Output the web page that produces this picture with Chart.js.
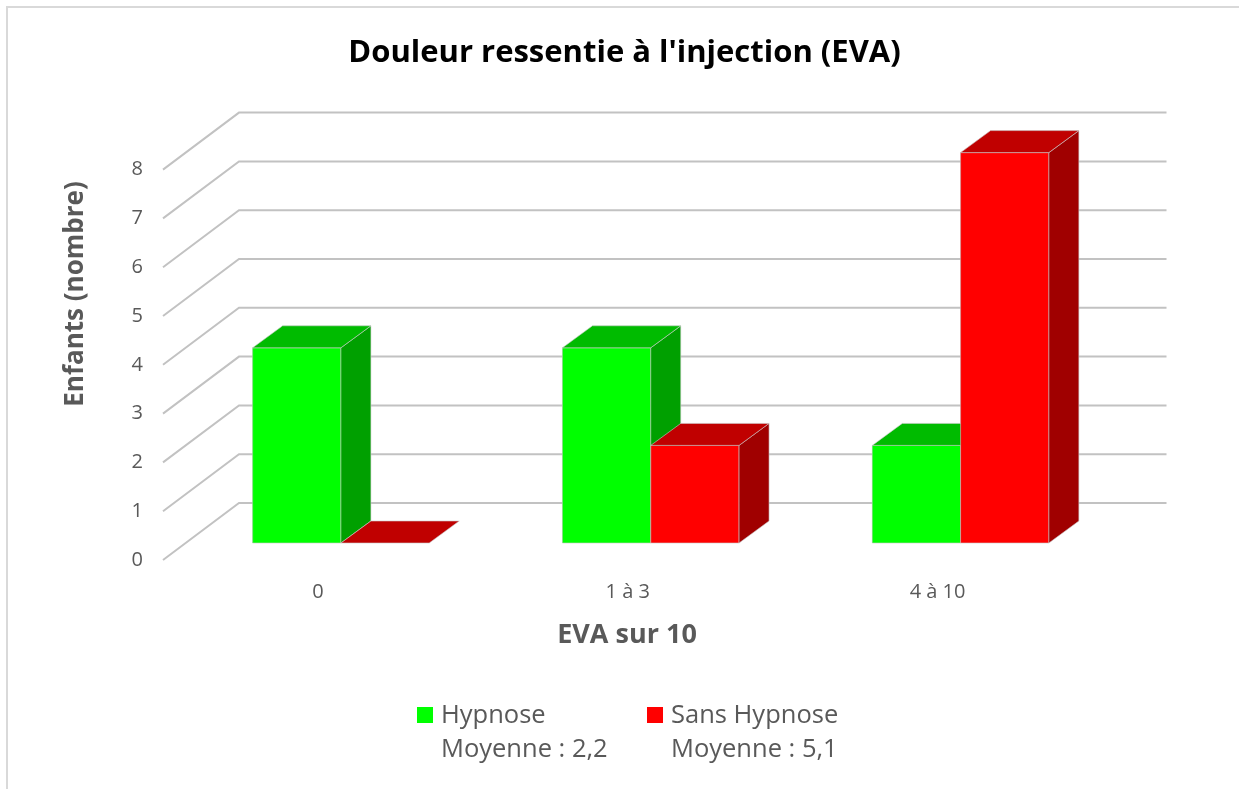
<!DOCTYPE html>
<html lang="fr">
<head>
  <meta charset="UTF-8" />
  <title>Douleur ressentie à l'injection (EVA)</title>
  <script src="https://cdn.jsdelivr.net/npm/chart.js"></script>
  <style>
    html, body { margin: 0; padding: 0; background: #fff; overflow: hidden; }
    #wrap { position: relative; width: 1239px; height: 789px; }
    #frame {
      position: absolute; left: 6px; top: 6px; width: 1300px; height: 900px;
      border: 2px solid #d9d9d9; box-sizing: border-box;
    }
    canvas { position: absolute; left: 0; top: 0; }
  </style>
</head>
<body>
<div id="wrap">
  <div id="frame"></div>
  <canvas id="chart" width="1239" height="789"></canvas>
</div>
<script>
  // data
  const categories = ['0', '1 à 3', '4 à 10'];
  const hypnose = [4, 4, 2];
  const sansHypnose = [0, 2, 8];
  const seriesNames = ['Hypnose', 'Sans Hypnose'];
  const moyennes = ['Moyenne : 2,2', 'Moyenne : 5,1'];
  const yMin = 0, yMax = 8, yStep = 1;
  const xTitle = 'EVA sur 10';
  const yTitle = 'Enfants (nombre)';

  const FONT = "'Open Sans', Lato, sans-serif";
  const GREY = '#595959';

  // offsets of the fake 3D view, relative to the front of the bars
  const FRONT = { dx: -23, dy: 17 };
  const BACK = { dx: 53, dy: -40 };
  const BAR = { dx: 30, dy: -22 };

  function face(ctx, pts, color) {
    ctx.beginPath();
    ctx.moveTo(pts[0][0], pts[0][1]);
    for (let k = 1; k < pts.length; k++) ctx.lineTo(pts[k][0], pts[k][1]);
    ctx.closePath();
    ctx.fillStyle = color;
    ctx.fill();
    ctx.stroke();
  }

  const depth3d = {
    id: 'depth3d',
    beforeDatasetsDraw(chart) {
      const { ctx, chartArea: a } = chart;
      const y = chart.scales.y;
      ctx.save();
      ctx.strokeStyle = '#c2c2c2';
      ctx.lineWidth = 2;
      y.ticks.forEach(t => {
        const py = y.getPixelForValue(t.value);
        ctx.beginPath();
        ctx.moveTo(a.left + FRONT.dx, py + FRONT.dy);
        ctx.lineTo(a.left + BACK.dx, py + BACK.dy);
        ctx.lineTo(a.right + BACK.dx - 2, py + BACK.dy);
        ctx.stroke();
      });
      ctx.restore();
    },
    afterDatasetsDraw(chart) {
      const { ctx } = chart;
      const sets = chart.data.datasets;
      ctx.save();
      ctx.lineWidth = 1;
      ctx.strokeStyle = 'rgba(200,200,200,0.6)';
      for (let j = 0; j < chart.data.labels.length; j++) {
        sets.forEach((ds, i) => {
          const bar = chart.getDatasetMeta(i).data[j];
          const { x, y, base, width } = bar.getProps(['x', 'y', 'base', 'width'], true);
          const l = x - width / 2, r = x + width / 2;
          if (base - y > 0) {
            face(ctx, [[l, y], [r, y], [r, base], [l, base]], ds.backgroundColor);
            face(ctx, [[r, y], [r + BAR.dx, y + BAR.dy], [r + BAR.dx, base + BAR.dy], [r, base]], ds.sideColor);
          }
          face(ctx, [[l, y], [l + BAR.dx, y + BAR.dy], [r + BAR.dx, y + BAR.dy], [r, y]], ds.topColor);
        });
      }
      ctx.restore();
    }
  };

  // axis titles sit where Excel put them (off the plot centre), so they are drawn here
  const axisTitles = {
    id: 'axisTitles',
    afterDraw(chart) {
      const { ctx } = chart;
      ctx.save();
      ctx.fillStyle = GREY;
      ctx.textAlign = 'center';
      ctx.textBaseline = 'middle';
      ctx.font = 'bold 27px ' + FONT;
      ctx.fillText(xTitle, 627, 635);
      ctx.translate(75.5, 294);
      ctx.rotate(-Math.PI / 2);
      ctx.font = 'bold 26px ' + FONT;
      ctx.fillText(yTitle, 0, 0);
      ctx.restore();
    }
  };

  const legendBlock = {
    id: 'legendBlock',
    afterDraw(chart) {
      const { ctx } = chart;
      const xs = [417, 647];
      ctx.save();
      ctx.font = '25.5px ' + FONT;
      ctx.textBaseline = 'middle';
      chart.data.datasets.forEach((ds, i) => {
        ctx.fillStyle = ds.backgroundColor;
        ctx.fillRect(xs[i], 707, 16, 16);
        ctx.fillStyle = GREY;
        ctx.fillText(ds.label, xs[i] + 24, 716);
        ctx.fillText(moyennes[i], xs[i] + 24, 750);
      });
      ctx.restore();
    }
  };

  Chart.defaults.font.family = FONT;
  Chart.defaults.color = GREY;

  new Chart(document.getElementById('chart'), {
    type: 'bar',
    data: {
      labels: categories,
      datasets: [
        { label: seriesNames[0], data: hypnose, backgroundColor: '#00ff00', topColor: '#00bb00', sideColor: '#00a000' },
        { label: seriesNames[1], data: sansHypnose, backgroundColor: '#ff0000', topColor: '#c00000', sideColor: '#a00000' }
      ]
    },
    options: {
      responsive: false,
      animation: false,
      events: [],
      layout: { padding: { left: 10, right: 0, top: 0, bottom: 140 } },
      datasets: { bar: { categoryPercentage: 0.57, barPercentage: 1.0, borderWidth: 0 } },
      plugins: {
        legend: { display: false },
        tooltip: { enabled: false },
        title: {
          display: true,
          text: "Douleur ressentie à l'injection (EVA)",
          color: '#000',
          font: { size: 31, weight: 'bold' },
          padding: { top: 34.4, bottom: 81 }
        }
      },
      scales: {
        x: {
          grid: { display: false, drawTicks: false },
          border: { display: false },
          ticks: { padding: 37, labelOffset: -23, color: GREY, font: { size: 20 } },
          afterFit(s) { s.height = 106; }
        },
        y: {
          min: yMin, max: yMax,
          grid: { display: false, drawTicks: false },
          border: { display: false },
          ticks: { stepSize: yStep, padding: 43, labelOffset: 17, color: GREY, font: { size: 20 } },
          afterFit(s) { s.width = 176; }
        },
        yRight: {
          position: 'right',
          grid: { display: false, drawTicks: false },
          border: { display: false },
          ticks: { display: false },
          afterFit(s) { s.width = 123.5; }
        }
      }
    },
    plugins: [depth3d, axisTitles, legendBlock]
  });
</script>
</body>
</html>
